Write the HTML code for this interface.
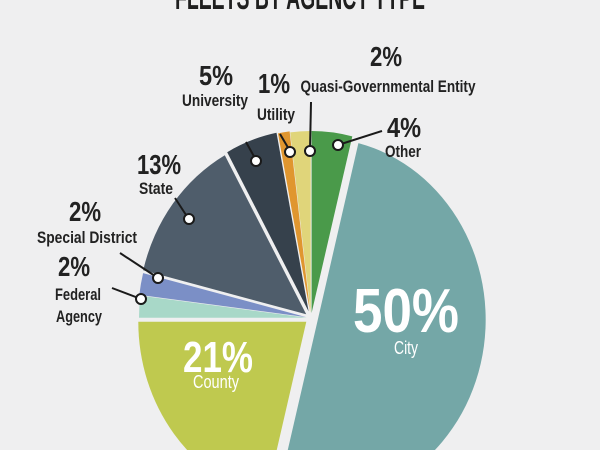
<!DOCTYPE html>
<html><head><meta charset="utf-8"><style>
html,body{margin:0;padding:0;background:#efeff0;width:600px;height:450px;overflow:hidden;}
svg{display:block}
text{font-family:"Liberation Sans Narrow","Liberation Sans",sans-serif;}
</style></head><body>
<svg id="s" width="600" height="450" viewBox="0 0 600 450">
<rect width="600" height="450" fill="#efeff0"/>
<text x="300" y="9" text-anchor="middle" font-size="34" font-weight="bold" fill="#1f1f1f" textLength="250" lengthAdjust="spacingAndGlyphs">FLEETS BY AGENCY TYPE</text>
<g id="pie"></g>
<g stroke="#1a1a1a" stroke-width="2" fill="none">
<line x1="338" y1="145" x2="382" y2="131"/>
<line x1="310" y1="150" x2="311" y2="102"/>
<line x1="290" y1="151" x2="280" y2="134"/>
<line x1="256" y1="160" x2="246" y2="142"/>
<line x1="188" y1="218" x2="175" y2="198"/>
<line x1="158" y1="278" x2="120" y2="253"/>
<line x1="141" y1="299" x2="112" y2="288"/>
</g>
<g fill="#fff" stroke="#1a1a1a" stroke-width="2">
<circle cx="338" cy="145" r="5"/><circle cx="310" cy="151" r="5"/><circle cx="290" cy="152" r="5"/>
<circle cx="256" cy="161" r="5"/><circle cx="189" cy="219" r="5"/><circle cx="158" cy="278" r="5"/><circle cx="141" cy="299" r="5"/>
</g>
<g fill="#222" text-anchor="middle" font-weight="bold">
<text x="386" y="66" font-size="28" textLength="32" lengthAdjust="spacingAndGlyphs">2%</text>
<text x="388" y="92" font-size="17" textLength="175" lengthAdjust="spacingAndGlyphs">Quasi-Governmental Entity</text>
<text x="216" y="85" font-size="28" textLength="34" lengthAdjust="spacingAndGlyphs">5%</text>
<text x="215" y="106" font-size="17" textLength="66" lengthAdjust="spacingAndGlyphs">University</text>
<text x="274" y="93" font-size="28" textLength="32" lengthAdjust="spacingAndGlyphs">1%</text>
<text x="276" y="120" font-size="17" textLength="38" lengthAdjust="spacingAndGlyphs">Utility</text>
<text x="404" y="137" font-size="28" textLength="34" lengthAdjust="spacingAndGlyphs">4%</text>
<text x="403" y="157" font-size="17" textLength="36" lengthAdjust="spacingAndGlyphs">Other</text>
<text x="159" y="174" font-size="28" textLength="44" lengthAdjust="spacingAndGlyphs">13%</text>
<text x="156" y="194" font-size="17" textLength="34" lengthAdjust="spacingAndGlyphs">State</text>
<text x="85" y="221" font-size="28" textLength="32" lengthAdjust="spacingAndGlyphs">2%</text>
<text x="87" y="243" font-size="17" textLength="100" lengthAdjust="spacingAndGlyphs">Special District</text>
<text x="74" y="276" font-size="28" textLength="32" lengthAdjust="spacingAndGlyphs">2%</text>
<text x="78" y="300" font-size="17" textLength="46" lengthAdjust="spacingAndGlyphs">Federal</text>
<text x="79" y="322" font-size="17" textLength="46" lengthAdjust="spacingAndGlyphs">Agency</text>
</g>
<g fill="#fff" text-anchor="middle" font-weight="bold">
<text x="406" y="332" font-size="62" textLength="106" lengthAdjust="spacingAndGlyphs">50%</text>
<text x="406" y="354" font-size="18" font-weight="normal" textLength="24" lengthAdjust="spacingAndGlyphs">City</text>
<text x="218" y="372" font-size="44" textLength="70" lengthAdjust="spacingAndGlyphs">21%</text>
<text x="216" y="388" font-size="18" font-weight="normal" textLength="46" lengthAdjust="spacingAndGlyphs">County</text>
</g>
</svg>
<script>
(function(){
var cx=311,cy=318,rx=168,ry=182;
var sl=[[14,194,"#74a7a7",7],[194,270,"#bfc94f",6],[270,277,"#a8d8c8",4],[277,284,"#7b8fc6",5],[284,331,"#4f5d6b",6],[331,349,"#36414c",7],[349,353,"#e0962f",6],[353,360,"#e0d57a",5],[360,374,"#4a9a4a",5]];
var g=document.getElementById("pie"),h="";
function pt(a,ox,oy){var t=a*Math.PI/180;return [(ox+rx*Math.sin(t)).toFixed(1),(oy-ry*Math.cos(t)).toFixed(1)];}
sl.forEach(function(s){
var m=(s[0]+s[1])/2,t=m*Math.PI/180,ox=cx+s[3]*Math.sin(t),oy=cy-s[3]*Math.cos(t);
var p1=pt(s[0],ox,oy),p2=pt(s[1],ox,oy),la=(s[1]-s[0])>180?1:0;
h+='<path d="M'+ox.toFixed(1)+','+oy.toFixed(1)+' L'+p1+' A'+rx+','+ry+' 0 '+la+' 1 '+p2+' Z" fill="'+s[2]+'"/>';
});
g.innerHTML=h;
})();
</script>
</body></html>
